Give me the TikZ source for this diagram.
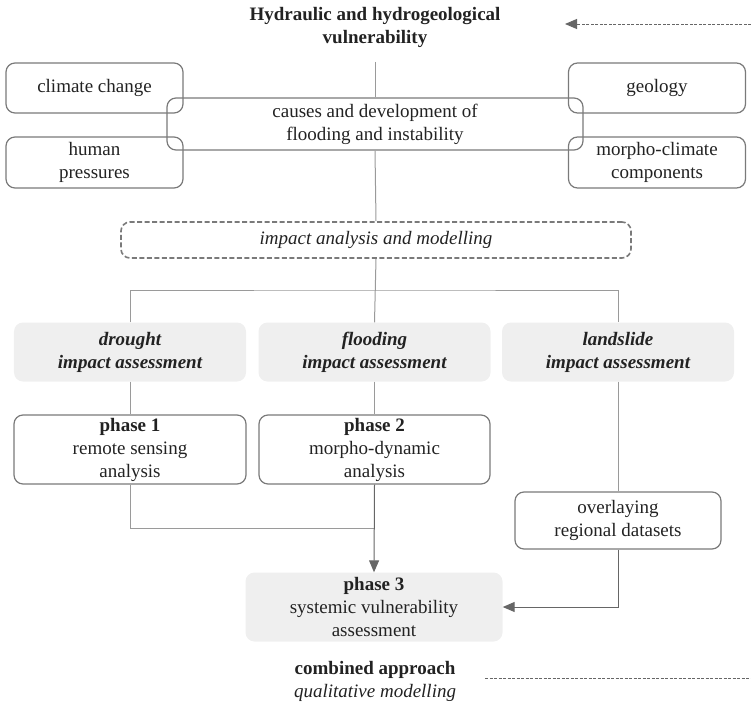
\documentclass[tikz,border=0pt]{standalone}
\usepackage{fontspec}
\setmainfont{Liberation Serif}
\usepackage{tikz}
\usetikzlibrary{arrows.meta}
\definecolor{linegrey}{HTML}{9A9A9A}
\definecolor{boxgrey}{HTML}{7A7A7A}
\definecolor{fillgrey}{HTML}{EFEFEF}
\definecolor{tipgrey}{HTML}{666666}
\definecolor{txt}{HTML}{222222}
\tikzset{
  >={Triangle[length=12bp,width=10bp]},
  roundbox/.style={
    rectangle,
    rounded corners=9bp,
    draw=boxgrey, line width=1.2bp,
    inner sep=0pt,
    align=center,
    text=txt},
  greybox/.style={
    rectangle,
    rounded corners=9bp,
    fill=fillgrey,
    inner sep=0pt,
    align=center,
    text=txt},
  dashbox/.style={
    roundbox,
    dash pattern=on 5bp off 2.5bp,
    line width=1.6bp},
  line/.style={draw=linegrey, line width=1bp},
  arrowline/.style={line, -{>[fill=tipgrey]}, tipgrey},
  dashline/.style={draw=tipgrey, line width=0.9bp, dash pattern=on 3bp off 1.5bp},
}

\begin{document}
\begin{tikzpicture}[x=1bp,y=-1bp,font=\fontsize{19bp}{23bp}\selectfont]
\useasboundingbox (0,0) rectangle (751,704);
% title and causes
\node[align=center,text=txt,font=\fontsize{19bp}{23bp}\selectfont\bfseries] (title) at (375,27) {Hydraulic and hydrogeological\\vulnerability};
\node[roundbox,minimum width=177bp,minimum height=50bp] (climate) at (94.5,88) {climate change};
\node[roundbox,minimum width=177bp,minimum height=50bp] (geology) at (657,88) {geology};
\node[roundbox,minimum width=177bp,minimum height=51bp] (human) at (94.5,162.5) {human\\pressures};
\node[roundbox,minimum width=177bp,minimum height=51bp] (morpho) at (657,162.5) {morpho-climate\\components};
\node[roundbox,minimum width=416bp,minimum height=52bp] (causes) at (375,124) {causes and development of\\flooding and instability};
\node[dashbox,minimum width=510bp,minimum height=36bp,font=\fontsize{19bp}{23bp}\selectfont\itshape] (impact) at (376,240) {impact analysis and modelling};
% impact assessments
\foreach \n/\x/\A in {drought/130/drought, flood/374.5/flooding, land/618/landslide}{
  \node[greybox,minimum width=232bp,minimum height=59bp,font=\fontsize{19bp}{23bp}\selectfont\bfseries\itshape] (\n) at (\x,352) {\A\\impact assessment};
}
\node[roundbox,minimum width=232bp,minimum height=69bp] (ph1) at (130,449.5) {\textbf{phase 1}\\remote sensing\\analysis};
\node[roundbox,minimum width=231bp,minimum height=69bp] (ph2) at (374.5,449.5) {\textbf{phase 2}\\morpho-dynamic\\analysis};
\node[roundbox,minimum width=206bp,minimum height=57bp] (overlay) at (618,520.5) {overlaying\\regional datasets};
\node[greybox,minimum width=257bp,minimum height=69bp] (ph3) at (374,607) {\textbf{phase 3}\\systemic vulnerability\\assessment};
\node[align=center,text=txt] (combined) at (375,681) {\textbf{combined approach}\\\textit{qualitative modelling}};
% connectors
\coordinate (top) at (375,62);
\coordinate (branch) at (375,290);
\coordinate (merge) at (375,528);
\coordinate (rtop) at (751,24);
\coordinate (ltop) at (565,24);
\coordinate (lbot) at (485,678);
\coordinate (rbot) at (751,678);
\draw[line] (top) -- (causes.north);
\draw[line] (causes.south) -- (impact.north);
\draw[line] (impact.south) -- (flood.north);
\draw[line] (drought.north) |- (branch) -| (land.north);
\draw[line] (drought.south) -- (ph1.north);
\draw[line] (flood.south) -- (ph2.north);
\draw[line] (land.south) -- (overlay.north);
\draw[line] (ph1.south) |- (merge);
\draw[arrowline] (ph2.south) -- (ph3.north);
\draw[arrowline] (overlay.south) |- (ph3.east);
\draw[dashline,-{>[fill=tipgrey]}] (rtop) -- (ltop);
\draw[dashline] (lbot) -- (rbot);
\end{tikzpicture}
\end{document}
